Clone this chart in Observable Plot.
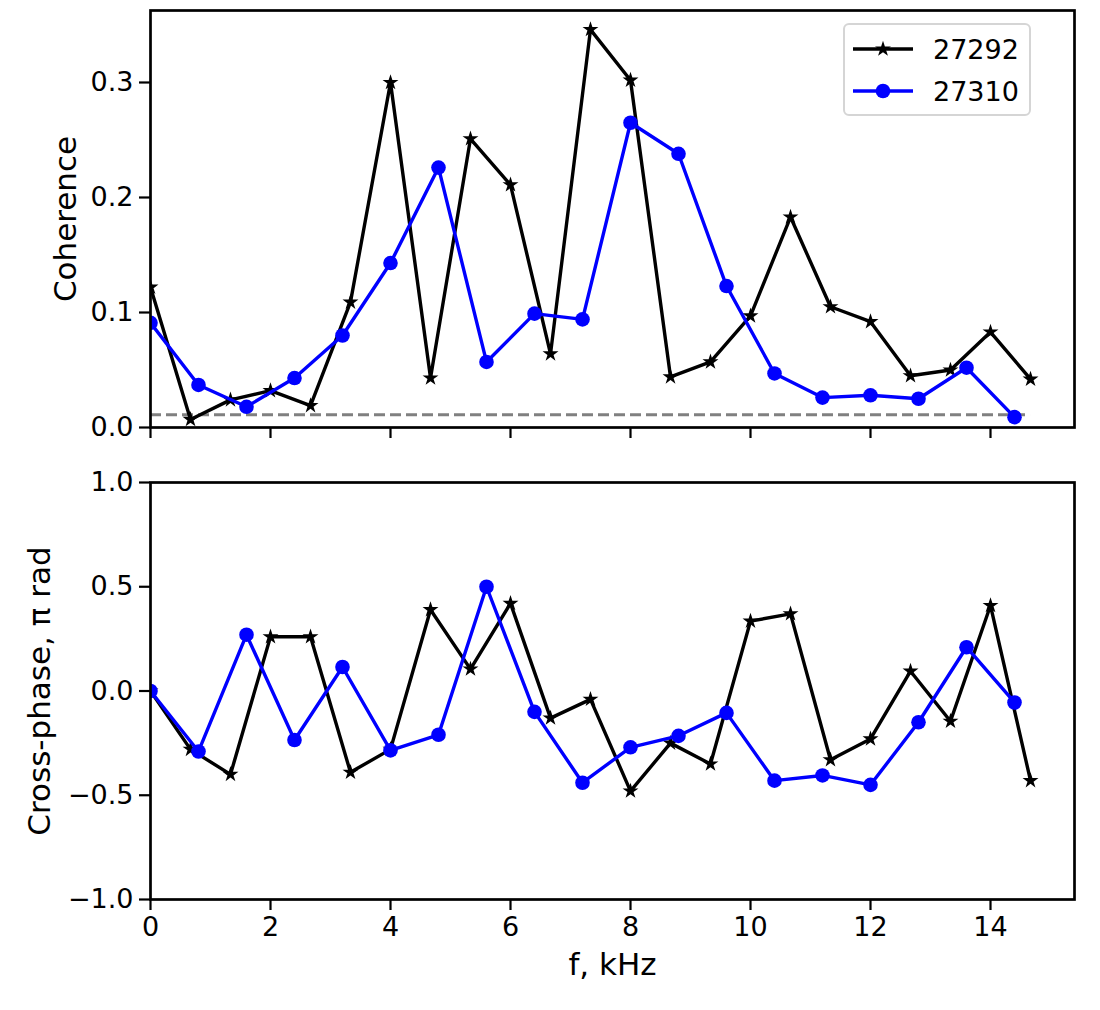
<!DOCTYPE html>
<html>
<head>
<meta charset="utf-8">
<script src="https://cdn.jsdelivr.net/npm/d3@7"></script>
<script src="https://cdn.jsdelivr.net/npm/@observablehq/plot@0.6"></script>
<style>
  body { margin: 0; background: #fff; font-family: "DejaVu Sans", sans-serif; }
  #wrap { position: relative; width: 1100px; height: 1010px; background: #fff; }
  #wrap svg { display: block; }
  #legend { position: absolute; left: 843px; top: 23px; width: 188px; height: 93px;
    border: 2px solid #d5d5d5; border-radius: 6px; background: #fff; box-sizing: border-box;
    font-size: 27px; color: #000; }
  .row { position: absolute; left: 8px; height: 30px; display: flex; align-items: center; }
  .row span { margin-left: 20px; }
</style>
</head>
<body>
<div id="wrap"></div>
<script>
// ---- data ----
const seriesNames = ["27292", "27310"];
const seriesColors = ["black", "blue"];

const freq27292 = [0, 0.667, 1.333, 2.0, 2.667, 3.333, 4.0, 4.667, 5.333, 6.0, 6.667, 7.333, 8.0, 8.667, 9.333, 10.0, 10.667, 11.333, 12.0, 12.667, 13.333, 14.0, 14.667];
const coh27292 = [0.122, 0.007, 0.024, 0.032, 0.019, 0.109, 0.300, 0.043, 0.251, 0.211, 0.064, 0.346, 0.302, 0.044, 0.057, 0.097, 0.183, 0.105, 0.092, 0.045, 0.050, 0.083, 0.042];
const phase27292 = [0, -0.28, -0.40, 0.26, 0.26, -0.39, -0.28, 0.39, 0.105, 0.42, -0.13, -0.04, -0.48, -0.25, -0.35, 0.335, 0.37, -0.33, -0.23, 0.095, -0.145, 0.41, -0.43];

const freq27310 = [0, 0.8, 1.6, 2.4, 3.2, 4.0, 4.8, 5.6, 6.4, 7.2, 8.0, 8.8, 9.6, 10.4, 11.2, 12.0, 12.8, 13.6, 14.4];
const coh27310 = [0.091, 0.037, 0.018, 0.043, 0.080, 0.143, 0.226, 0.057, 0.099, 0.094, 0.265, 0.238, 0.123, 0.047, 0.026, 0.028, 0.025, 0.052, 0.009];
const phase27310 = [0, -0.29, 0.27, -0.235, 0.115, -0.285, -0.21, 0.50, -0.10, -0.44, -0.27, -0.215, -0.105, -0.43, -0.405, -0.45, -0.15, 0.21, -0.055];

const noiseLevel = 0.011;
const noiseRange = [0, 14.667];

const xDomain = [0, 15.4];
const cohDomain = [0, 0.3626];
const phaseDomain = [-1, 1];
const xTicks = [0, 2, 4, 6, 8, 10, 12, 14];
const cohTicks = [0, 0.1, 0.2, 0.3];
const phaseTicks = [-1, -0.5, 0, 0.5, 1];

const xLabel = "f, kHz";
const cohLabel = "Coherence";
const phaseLabel = "Cross-phase, π rad";

// ---- tables ----
const rowsA = freq27292.map((f, i) => ({f, coh: coh27292[i], phase: phase27292[i]}));
const rowsB = freq27310.map((f, i) => ({f, coh: coh27310[i], phase: phase27310[i]}));

const fmt1 = d3.format(".1f");
const FONT = "DejaVu Sans";
const common = {
  width: 1100, marginLeft: 150, marginRight: 26,
  style: {fontFamily: FONT, fontSize: "27px", color: "black", background: "white", overflow: "visible"}
};
const tickOpts = {tickSize: 11, strokeWidth: 2.2, fontSize: 27, label: null};
const LW = 3.4;

function seriesMarks(key) {
  return [
    Plot.line(rowsA, {x: "f", y: key, stroke: seriesColors[0], strokeWidth: LW, clip: true}),
    Plot.dot(rowsA, {x: "f", y: key, symbol: "star", fill: seriesColors[0], stroke: "none", r: 5, clip: true}),
    Plot.line(rowsB, {x: "f", y: key, stroke: seriesColors[1], strokeWidth: LW, clip: true}),
    Plot.dot(rowsB, {x: "f", y: key, symbol: "circle", fill: seriesColors[1], stroke: "none", r: 7.3, clip: true})
  ];
}

const labelOpts = {text: d => d, fontSize: 31, fill: "black", textAnchor: "middle", lineAnchor: "middle"};

const topPlot = Plot.plot({
  ...common, height: 455, marginTop: 10, marginBottom: 28,
  x: {domain: xDomain},
  y: {domain: cohDomain},
  marks: [
    Plot.ruleY([noiseLevel], {x1: noiseRange[0], x2: noiseRange[1], stroke: "#808080", strokeWidth: 3, strokeDasharray: "11,5"}),
    ...seriesMarks("coh"),
    Plot.axisX({...tickOpts, ticks: xTicks, tickFormat: () => ""}),
    Plot.axisY({...tickOpts, ticks: cohTicks, tickFormat: fmt1, tickPadding: 6}),
    Plot.frame({stroke: "black", strokeWidth: 2.7}),
    Plot.text([cohLabel], {...labelOpts, frameAnchor: "left", rotate: -90, dx: -84})
  ]
});

const bottomPlot = Plot.plot({
  ...common, height: 555, marginTop: 27, marginBottom: 111,
  x: {domain: xDomain},
  y: {domain: phaseDomain},
  marks: [
    ...seriesMarks("phase"),
    Plot.axisX({...tickOpts, ticks: xTicks, tickFormat: d => String(d), tickPadding: 6}),
    Plot.axisY({...tickOpts, ticks: phaseTicks, tickFormat: fmt1, tickPadding: 6}),
    Plot.frame({stroke: "black", strokeWidth: 2.7}),
    Plot.text([phaseLabel], {...labelOpts, frameAnchor: "left", rotate: -90, dx: -110}),
    Plot.text([xLabel], {...labelOpts, frameAnchor: "bottom", dy: 66})
  ]
});

const wrap = document.getElementById("wrap");
wrap.appendChild(topPlot);
wrap.appendChild(bottomPlot);

// ---- legend ----
const legend = document.createElement("div");
legend.id = "legend";
const starPath = d3.symbol(d3.symbolStar, Math.PI * 5 * 5)();
const circPath = d3.symbol(d3.symbolCircle, Math.PI * 7.3 * 7.3)();
const paths = [starPath, circPath];
seriesNames.forEach((name, i) => {
  const row = document.createElement("div");
  row.className = "row";
  row.style.top = (i === 0 ? 9 : 51) + "px";
  row.innerHTML = `<svg width="60" height="30" style="overflow:visible">
      <line x1="0" x2="60" y1="15" y2="15" stroke="${seriesColors[i]}" stroke-width="${LW}"></line>
      <path d="${paths[i]}" transform="translate(30,15)" fill="${seriesColors[i]}"></path>
    </svg><span>${name}</span>`;
  legend.appendChild(row);
});
wrap.appendChild(legend);
</script>
</body>
</html>
